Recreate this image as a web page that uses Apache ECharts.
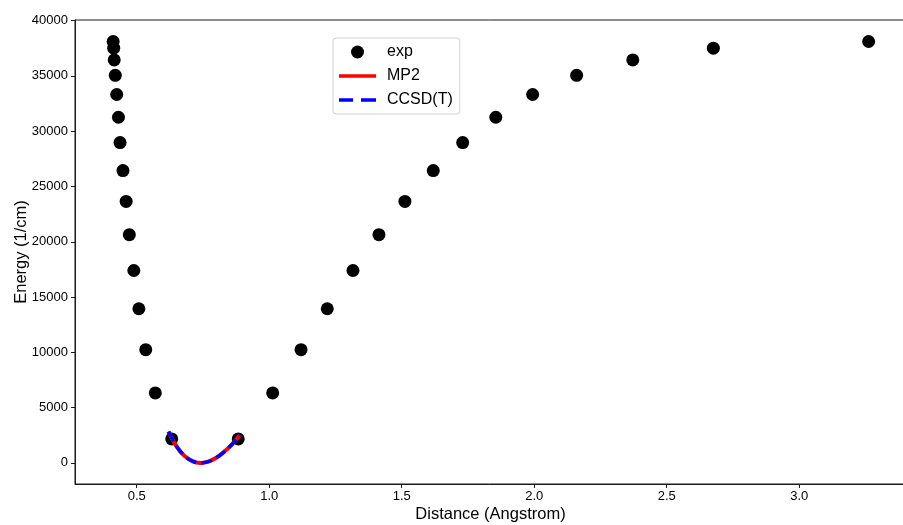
<!DOCTYPE html>
<html>
<head>
<meta charset="utf-8">
<script src="https://cdn.jsdelivr.net/npm/echarts@6/dist/echarts.min.js"></script>
<style>
  html, body { margin: 0; padding: 0; background: #ffffff; }
  #chart { width: 903px; height: 525px; }
</style>
</head>
<body>
<div id="chart"></div>
<script>
// H2 ground-state potential: experimental turning points and two ab initio curves
const seriesNames = ['exp', 'MP2', 'CCSD(T)'];

// experimental turning points (inner branch, then outer branch), Angstrom
const expInner = [0.632, 0.570, 0.534, 0.508, 0.489, 0.472, 0.460, 0.448, 0.437, 0.431, 0.4245, 0.419, 0.415, 0.413, 0.411];
const expOuter = [0.883, 1.013, 1.120, 1.219, 1.316, 1.414, 1.512, 1.619, 1.730, 1.855, 1.994, 2.160, 2.372, 2.676, 3.262];
// vibrational level energies above the minimum, 1/cm
const expEnergy = [2170, 6330, 10240, 13940, 17400, 20640, 23650, 26440, 28970, 31260, 33320, 35050, 36450, 37510, 38110];

// computed curves near equilibrium
const rGrid = [0.62, 0.65, 0.68, 0.71, 0.74, 0.77, 0.80, 0.83, 0.86, 0.89];
const mp2Energy = [2830, 1500, 635, 155, 0, 120, 470, 1010, 1710, 2530];
const ccsdtEnergy = [2850, 1510, 640, 157, 2, 118, 465, 1000, 1695, 2510];

// axis ticks
const xTicks = [0.5, 1.0, 1.5, 2.0, 2.5, 3.0];
const yTicks = [0, 5000, 10000, 15000, 20000, 25000, 30000, 35000, 40000];

const expPoints = expInner.map((r, i) => [r, expEnergy[i]])
  .concat(expOuter.map((r, i) => [r, expEnergy[i]]));
const mp2Points = rGrid.map((r, i) => [r, mp2Energy[i]]);
const ccsdtPoints = rGrid.map((r, i) => [r, ccsdtEnergy[i]]);

const font = 'Liberation Sans, Arial, Helvetica, sans-serif';
const ink = '#000000';
const spine = '#1a1a1a';

// legend glyphs: a solid bar and a two-dash bar, kept at their aspect ratio
const solidIcon = 'path://M0,0h37v3.4h-37z';
const dashIcon = 'path://M0,0h14v3.4h-14z M22,0h15v3.4h-15z';

const chart = echarts.init(document.getElementById('chart'), null, { renderer: 'canvas' });
chart.setOption({
  animation: false,
  backgroundColor: '#ffffff',
  textStyle: { fontFamily: font },
  grid: {
    left: 75, right: -3, top: 20, bottom: 41,
    containLabel: false, outerBoundsMode: 'none',
    show: true, borderColor: spine, borderWidth: 1, backgroundColor: 'transparent'
  },
  legend: {
    orient: 'vertical',
    left: 333, top: 38,
    data: [
      { name: seriesNames[0], icon: 'circle' },
      { name: seriesNames[1], icon: solidIcon },
      { name: seriesNames[2], icon: dashIcon }
    ],
    symbolKeepAspect: true,
    itemWidth: 37, itemHeight: 13, itemGap: 8,
    padding: [6, 7, 6, 6],
    borderColor: '#d0d0d0', borderWidth: 1, borderRadius: 3,
    backgroundColor: '#ffffff',
    textStyle: { fontFamily: font, fontSize: 16, color: ink, lineHeight: 16, padding: [0, 0, 0, 6] }
  },
  xAxis: {
    type: 'value',
    min: 0.267, max: 3.403,
    name: 'Distance (Angstrom)',
    nameLocation: 'middle', nameGap: 22, nameMoveOverlap: false,
    nameTextStyle: { fontFamily: font, fontSize: 16.5, color: ink },
    splitLine: { show: false },
    axisLine: { show: true, onZero: false, lineStyle: { color: spine, width: 1 } },
    axisTick: { show: true, inside: false, length: 4, customValues: xTicks, lineStyle: { color: spine } },
    axisLabel: {
      customValues: xTicks, margin: 6, fontSize: 13, color: ink, fontFamily: font,
      formatter: v => Number(v).toFixed(1)
    }
  },
  yAxis: {
    type: 'value',
    min: -1907, max: 40057,
    name: 'Energy (1/cm)',
    nameLocation: 'middle', nameGap: 45, nameMoveOverlap: false,
    nameTextStyle: { fontFamily: font, fontSize: 16.5, color: ink },
    splitLine: { show: false },
    axisLine: { show: true, onZero: false, lineStyle: { color: spine, width: 1 } },
    axisTick: { show: true, inside: false, length: 4, customValues: yTicks, lineStyle: { color: spine } },
    axisLabel: {
      customValues: yTicks, margin: 7, fontSize: 13, color: ink, fontFamily: font,
      formatter: v => String(Math.round(v))
    }
  },
  series: [
    {
      name: 'exp', type: 'scatter', data: expPoints,
      symbol: 'circle', symbolSize: 13,
      itemStyle: { color: '#000000', opacity: 1 }, z: 2
    },
    {
      name: 'MP2', type: 'line', data: mp2Points,
      smooth: 0.4, showSymbol: false, symbol: 'none',
      lineStyle: { color: '#ff0000', width: 4, type: 'solid' },
      itemStyle: { color: '#ff0000' }, z: 3
    },
    {
      name: 'CCSD(T)', type: 'line', data: ccsdtPoints,
      smooth: 0.4, showSymbol: false, symbol: 'none',
      lineStyle: { color: '#0000ff', width: 3.5, type: [11, 5] },
      itemStyle: { color: '#0000ff' }, z: 4
    }
  ]
});
</script>
</body>
</html>
